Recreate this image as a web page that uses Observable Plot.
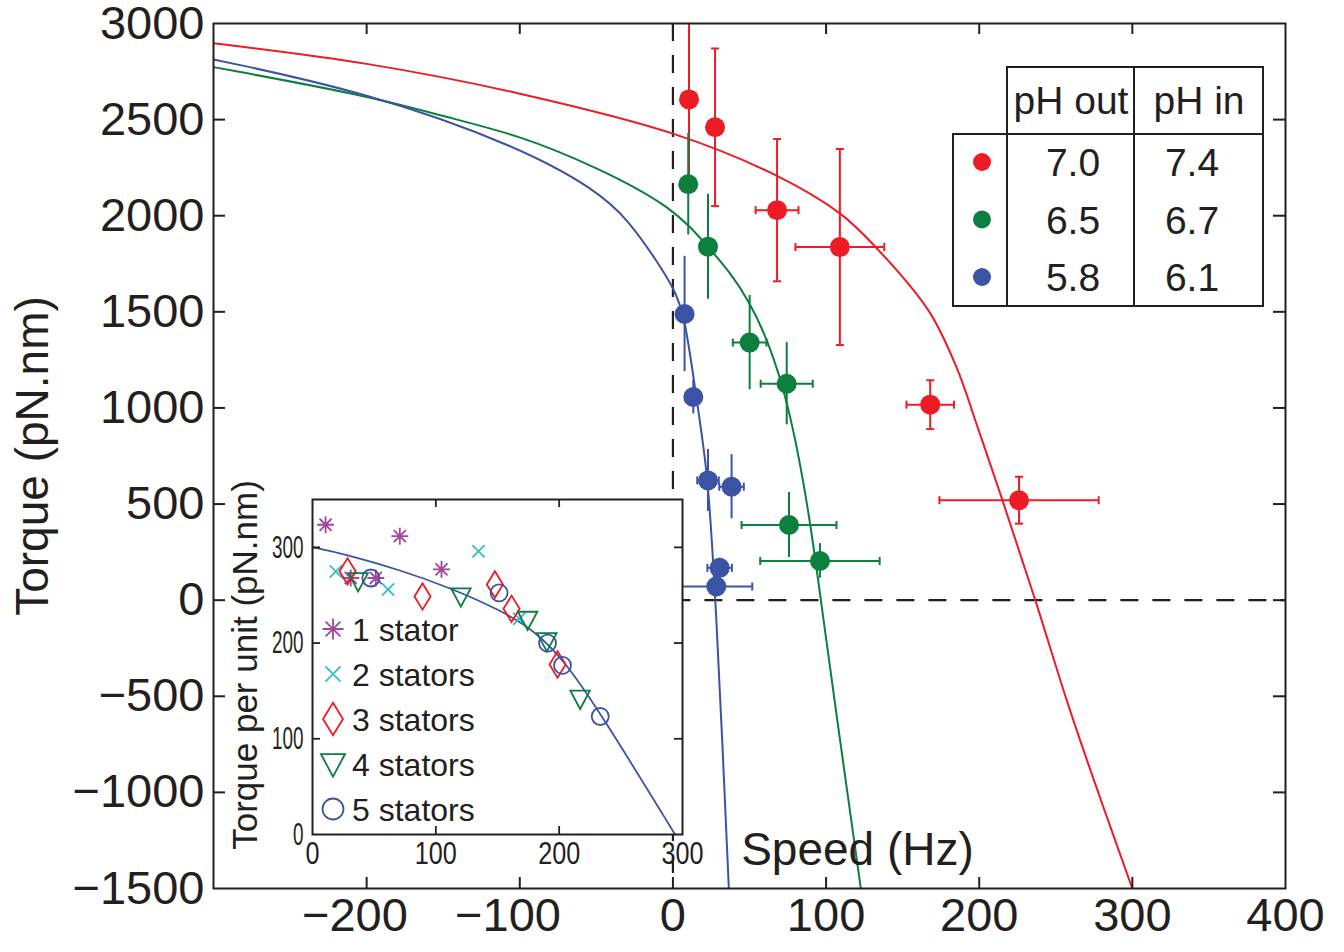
<!DOCTYPE html>
<html><head><meta charset="utf-8">
<script src="https://cdn.jsdelivr.net/npm/d3@7"></script>
<script src="https://cdn.jsdelivr.net/npm/@observablehq/plot@0.6"></script>
<style>
body{margin:0;background:#fff;font-family:"Liberation Sans",Arial,Helvetica,sans-serif;}
#wrap{position:relative;width:1344px;height:952px;overflow:hidden;background:#fff}
#wrap > *{position:absolute}
</style></head><body><div id="wrap"></div>
<script>
// ---------- main chart data (speed Hz, torque pN.nm) ----------
const redSpeed = [10.5, 27.5, 68, 109, 168, 226];
const redTorque = [2605, 2460, 2029, 1837, 1017, 520];
const redTorqueErr = [470, 410, 370, 510, 127, 122];
const redSpeedErr = [0, 0, 14, 29, 15.5, 52];

const greenSpeed = [10, 22.9, 50.1, 74.3, 75.8, 96];
const greenTorque = [2164, 1839, 1340, 1126, 391, 204];
const greenTorqueErr = [264, 273, 245, 214, 169, 90];
const greenSpeedErr = [0, 0, 11, 17, 31, 39];

const blueSpeed = [7.6, 13.3, 22.9, 38.3, 30.5, 28.3];
const blueTorque = [1489, 1057, 623, 590, 168, 71];
const blueTorqueErr = [300, 88, 161, 167, 50, 0];
const blueSpeedErr = [0, 0, 7, 8, 8, 23.5];

// fitted curves, points
const redCurveSpeed = [-300, -200, -100, 0, 67, 109, 132, 167, 185, 199.5, 215, 236.6, 261, 300];
const redCurveTorque = [2897, 2790, 2635, 2427, 2211, 2012, 1840, 1505, 1215, 887, 524, 0, -614, -1500];
const greenCurveSpeed = [-300, -200, -148, -100, -50, 0, 23, 50, 74, 89.7, 96.5, 110, 122.7];
const greenCurveTorque = [2773, 2626, 2513, 2418, 2254, 2046, 1838, 1588, 1112, 420, 0, -780, -1500];
const blueCurveSpeed = [-300, -200, -100, -50, -29, -11, 0, 7.6, 14.8, 22.4, 25.6, 27.8, 32.2, 36.5];
const blueCurveTorque = [2813, 2643, 2358, 2133, 1977, 1770, 1631, 1489, 1078, 680, 282, 0, -721, -1500];

const xTickValues = [-200, -100, 0, 100, 200, 300, 400];
const yTickValues = [-1500, -1000, -500, 0, 500, 1000, 1500, 2000, 2500, 3000];

// legend table
const phOut = ["7.0", "6.5", "5.8"];
const phIn = ["7.4", "6.7", "6.1"];
const tableHeader = ["pH out", "pH in"];

// ---------- inset data (speed Hz, torque per unit pN.nm) ----------
const s1Speed = [10.6, 70.8, 104.6, 31, 51.3];
const s1Torque = [323.6, 311.7, 277, 268, 268];
const s2Speed = [18.9, 61.3, 134.6, 167.6];
const s2Torque = [274.8, 256, 296, 225.4];
const s3Speed = [28.4, 89.2, 147.9, 161.4, 198.7];
const s3Torque = [275, 248.7, 261.2, 235.8, 177.6];
const s4Speed = [37, 120.3, 174.4, 190, 217];
const s4Torque = [264.7, 248.7, 224.3, 202, 141.8];
const s5Speed = [47.3, 151.3, 190.6, 202.7, 233.3];
const s5Torque = [268, 252.5, 200, 176.6, 123.3];
const insetCurveSpeed = [0, 26, 72, 111, 153, 180, 204, 234, 294];
const insetCurveTorque = [300, 293, 276, 258, 234, 213, 182, 126, 0];
const insetLabels = ["1 stator", "2 stators", "3 stators", "4 stators", "5 stators"];
const insetXTicks = [0, 100, 200, 300];
const insetYTicks = [0, 100, 200, 300];

// ---------- styles ----------
const RED = "#ED1C24", GREEN = "#0B7F3D", BLUE = "#3A53A4", PURPLE = "#A2479B", CYAN = "#30C1C4";
const INK = "#231f20";
const FONT = "Liberation Sans, Arial, Helvetica, sans-serif";
const fmt = d => (d < 0 ? "\u2212" + Math.abs(d) : String(d));
const fmtX = d => (d < 0 ? "\u2212" + Math.abs(d) + "\u2002" : String(d));

// custom symbols
const hcap = {draw(c, s){const r = Math.sqrt(s/Math.PI); c.moveTo(-r,0); c.lineTo(r,0);}};
const vcap = {draw(c, s){const r = Math.sqrt(s/Math.PI); c.moveTo(0,-r); c.lineTo(0,r);}};
const symAst = {draw(c, s){const r = Math.sqrt(s/Math.PI), d = r*Math.SQRT1_2;
  c.moveTo(-r,0); c.lineTo(r,0); c.moveTo(0,-r); c.lineTo(0,r);
  c.moveTo(-d,-d); c.lineTo(d,d); c.moveTo(-d,d); c.lineTo(d,-d);}};
const symTimes = {draw(c, s){const r = Math.sqrt(s/Math.PI)*0.72;
  c.moveTo(-r,-r); c.lineTo(r,r); c.moveTo(-r,r); c.lineTo(r,-r);}};
const symDiamond = {draw(c, s){const r = Math.sqrt(s/Math.PI);
  c.moveTo(0,-1.55*r); c.lineTo(0.95*r,0); c.lineTo(0,1.55*r); c.lineTo(-0.95*r,0); c.closePath();}};
const symTri = {draw(c, s){const r = Math.sqrt(s/Math.PI);
  c.moveTo(-1.15*r,-0.95*r); c.lineTo(1.15*r,-0.95*r); c.lineTo(0,1.2*r); c.closePath();}};
const symCircle = d3.symbolCircle;

const wrap = document.getElementById("wrap");

// ---------- main plot ----------
const W = 1344, H = 952, mL = 213, mR = 59, mT = 23, mB = 64;
const fw = W - mL - mR, fh = H - mT - mB;
const series = [
  {color: RED, sp: redSpeed, tq: redTorque, et: redTorqueErr, es: redSpeedErr, cx: redCurveSpeed, cy: redCurveTorque, yCaps: true, curve: "catmull-rom"},
  {color: GREEN, sp: greenSpeed, tq: greenTorque, et: greenTorqueErr, es: greenSpeedErr, cx: greenCurveSpeed, cy: greenCurveTorque, yCaps: false, curve: "basis"},
  {color: BLUE, sp: blueSpeed, tq: blueTorque, et: blueTorqueErr, es: blueSpeedErr, cx: blueCurveSpeed, cy: blueCurveTorque, yCaps: false, curve: "basis"}
];
const marks = [
  Plot.ruleX([0], {stroke: INK, strokeWidth: 2.2, strokeDasharray: "18,14"}),
  Plot.ruleY([0], {x1: 0, x2: 400, stroke: INK, strokeWidth: 2.2, strokeDasharray: "18,14"})
];
for (const s of series) {
  const curve = s.cx.map((x, i) => ({x, y: s.cy[i]}));
  marks.push(Plot.line(curve, {x: "x", y: "y", stroke: s.color, strokeWidth: 2, curve: s.curve, clip: true}));
}
for (const s of series) {
  const pts = s.sp.map((x, i) => ({x, y: s.tq[i], et: s.et[i], es: s.es[i]}));
  const ye = pts.filter(d => d.et > 0), xe = pts.filter(d => d.es > 0);
  marks.push(Plot.ruleX(ye, {x: "x", y1: d => d.y - d.et, y2: d => d.y + d.et, stroke: s.color, strokeWidth: 2, clip: true}));
  marks.push(Plot.ruleY(xe, {y: "y", x1: d => d.x - d.es, x2: d => d.x + d.es, stroke: s.color, strokeWidth: 2, clip: true}));
  marks.push(Plot.dot(xe.flatMap(d => [{x: d.x - d.es, y: d.y}, {x: d.x + d.es, y: d.y}]),
    {x: "x", y: "y", symbol: vcap, r: 4, fill: "none", stroke: s.color, strokeWidth: 2, clip: true}));
  if (s.yCaps) marks.push(Plot.dot(ye.flatMap(d => [{x: d.x, y: d.y - d.et}, {x: d.x, y: d.y + d.et}]),
    {x: "x", y: "y", symbol: hcap, r: 4, fill: "none", stroke: s.color, strokeWidth: 2, clip: true}));
  marks.push(Plot.dot(pts, {x: "x", y: "y", r: 10, fill: s.color, stroke: "none"}));
}
const innerX = xTickValues.filter(v => v > -300 && v < 400);
const innerY = yTickValues.filter(v => v > -1500 && v < 3000);
marks.push(
  Plot.frame({stroke: INK, strokeWidth: 2}),
  Plot.ruleX(innerX, {x: d => d, insetTop: fh - 11, stroke: INK, strokeWidth: 2}),
  Plot.ruleX(innerX, {x: d => d, insetBottom: fh - 11, stroke: INK, strokeWidth: 2}),
  Plot.ruleY(innerY, {y: d => d, insetRight: fw - 12, stroke: INK, strokeWidth: 2}),
  Plot.ruleY(innerY, {y: d => d, insetLeft: fw - 12, stroke: INK, strokeWidth: 2}),
  Plot.axisX({ticks: xTickValues, tickSize: 0, tickPadding: 9, fontSize: 47, tickFormat: fmtX, label: null, fill: INK}),
  Plot.axisY({ticks: yTickValues, tickSize: 0, tickPadding: 9, fontSize: 47, tickFormat: fmt, label: null, fill: INK}),
  Plot.text(["Speed (Hz)"], {frameAnchor: "bottom", textAnchor: "middle", lineAnchor: "middle", dx: 857 - (mL + fw / 2), dy: -38, fontSize: 46, fill: INK}),
  Plot.text(["Torque (pN.nm)"], {frameAnchor: "left", textAnchor: "middle", lineAnchor: "middle", rotate: -90, dx: 33 - mL, dy: 0, fontSize: 46, fill: INK})
);
const main = Plot.plot({
  width: W, height: H, marginLeft: mL, marginRight: mR, marginTop: mT, marginBottom: mB,
  x: {domain: [-300, 400]}, y: {domain: [-1500, 3000]},
  style: {fontFamily: FONT, background: "white", overflow: "visible"},
  marks
});
main.style.left = "0px"; main.style.top = "0px";
wrap.appendChild(main);
d3.select(main).selectAll('[aria-label="x-axis tick label"] text').attr("xml:space", "preserve").style("white-space", "pre");

// ---------- inset ----------
const iL = 100, iR = 10, iT = 5, iB = 50, ifw = 370, ifh = 335;
const iLeft = 312 - iL, iTop = 499 - iT;
const groups = [
  {sp: s1Speed, tq: s1Torque, sym: symAst, color: PURPLE},
  {sp: s2Speed, tq: s2Torque, sym: symTimes, color: CYAN},
  {sp: s3Speed, tq: s3Torque, sym: symDiamond, color: RED},
  {sp: s4Speed, tq: s4Torque, sym: symTri, color: GREEN},
  {sp: s5Speed, tq: s5Torque, sym: symCircle, color: BLUE}
];
const imarks = [
  Plot.frame({fill: "white", stroke: "none"}),
  Plot.line(insetCurveSpeed.map((x, i) => ({x, y: insetCurveTorque[i]})), {x: "x", y: "y", stroke: BLUE, strokeWidth: 1.8, curve: "basis"})
];
for (const g of groups) {
  imarks.push(Plot.dot(g.sp.map((x, i) => ({x, y: g.tq[i]})), {x: "x", y: "y", symbol: g.sym, r: 8.5, fill: "none", stroke: g.color, strokeWidth: 1.8}));
}
imarks.push(
  Plot.frame({stroke: INK, strokeWidth: 2}),
  Plot.ruleX([100, 200], {x: d => d, insetTop: ifh - 8, stroke: INK, strokeWidth: 1.8}),
  Plot.ruleX([100, 200], {x: d => d, insetBottom: ifh - 8, stroke: INK, strokeWidth: 1.8}),
  Plot.ruleY([100, 200, 300], {y: d => d, insetRight: ifw - 8, stroke: INK, strokeWidth: 1.8}),
  Plot.ruleY([100, 200, 300], {y: d => d, insetLeft: ifw - 8, stroke: INK, strokeWidth: 1.8}),
  Plot.axisX({ticks: insetXTicks, tickSize: 0, tickPadding: 7, fontSize: 32, tickFormat: d => String(d), label: null, fill: INK}),
  Plot.axisY({ticks: insetYTicks, tickSize: 0, tickPadding: 9, fontSize: 32, tickFormat: d => String(d), label: null, fill: INK}),
  Plot.text(["Torque per unit (pN.nm)"], {frameAnchor: "left", textAnchor: "middle", lineAnchor: "middle", rotate: -90, dx: 245 - 312, dy: -2, fontSize: 35, fill: INK})
);
const inset = Plot.plot({
  width: iL + ifw + iR, height: iT + ifh + iB, marginLeft: iL, marginRight: iR, marginTop: iT, marginBottom: iB,
  x: {domain: [0, 300]}, y: {domain: [0, 350]},
  style: {fontFamily: FONT, background: "transparent", overflow: "visible"},
  marks: imarks
});
inset.style.left = iLeft + "px"; inset.style.top = iTop + "px";
wrap.appendChild(inset);
d3.select(inset).selectAll('[aria-label="y-axis tick label"] text').each(function(){
  this.setAttribute("textLength", this.textContent.length * 10.5); this.setAttribute("lengthAdjust", "spacingAndGlyphs");
});
d3.select(inset).selectAll('[aria-label="x-axis tick label"] text').each(function(){
  this.setAttribute("textLength", this.textContent.length * 14); this.setAttribute("lengthAdjust", "spacingAndGlyphs");
});

// inset legend
const leg = d3.select(wrap).append("svg").attr("width", 200).attr("height", 220)
  .style("left", "318px").style("top", "604px").style("overflow", "visible");
groups.forEach((g, i) => {
  const cy = 25 + i * 45;
  leg.append("path").attr("d", d3.symbol(g.sym, Math.PI * 10.5 * 10.5)())
    .attr("transform", `translate(15,${cy})`).attr("fill", "none").attr("stroke", g.color).attr("stroke-width", 1.8);
  leg.append("text").attr("x", 34).attr("y", cy).attr("dy", "0.36em").attr("font-size", 32)
    .attr("font-family", FONT).attr("fill", INK).text(insetLabels[i]);
});

// ---------- pH table legend ----------
const tb = d3.select(wrap).append("svg").attr("width", 1344).attr("height", 320)
  .style("left", "0px").style("top", "0px").style("pointer-events", "none");
const lines = [
  [1007, 67, 1264, 67], [953, 134, 1264, 134], [953, 306, 1264, 306],
  [953, 133, 953, 307], [1007, 66, 1007, 307], [1134, 66, 1134, 307], [1263, 66, 1263, 307]
];
lines.forEach(l => tb.append("line").attr("x1", l[0]).attr("y1", l[1]).attr("x2", l[2]).attr("y2", l[3])
  .attr("stroke", INK).attr("stroke-width", 2));
[1071, 1199].forEach((x, j) => tb.append("text").attr("x", x).attr("y", 100).attr("dy", "0.36em")
  .attr("text-anchor", "middle").attr("font-size", 39).attr("font-family", FONT).attr("fill", INK).text(tableHeader[j]));
const rowColors = [RED, GREEN, BLUE];
phOut.forEach((v, i) => {
  const y = 162 + i * 57.5;
  tb.append("circle").attr("cx", 982).attr("cy", y).attr("r", 9).attr("fill", rowColors[i]);
  tb.append("text").attr("x", 1073).attr("y", y).attr("dy", "0.36em").attr("text-anchor", "middle")
    .attr("font-size", 39).attr("font-family", FONT).attr("fill", INK).text(v);
  tb.append("text").attr("x", 1192).attr("y", y).attr("dy", "0.36em").attr("text-anchor", "middle")
    .attr("font-size", 39).attr("font-family", FONT).attr("fill", INK).text(phIn[i]);
});
</script>
</body></html>
